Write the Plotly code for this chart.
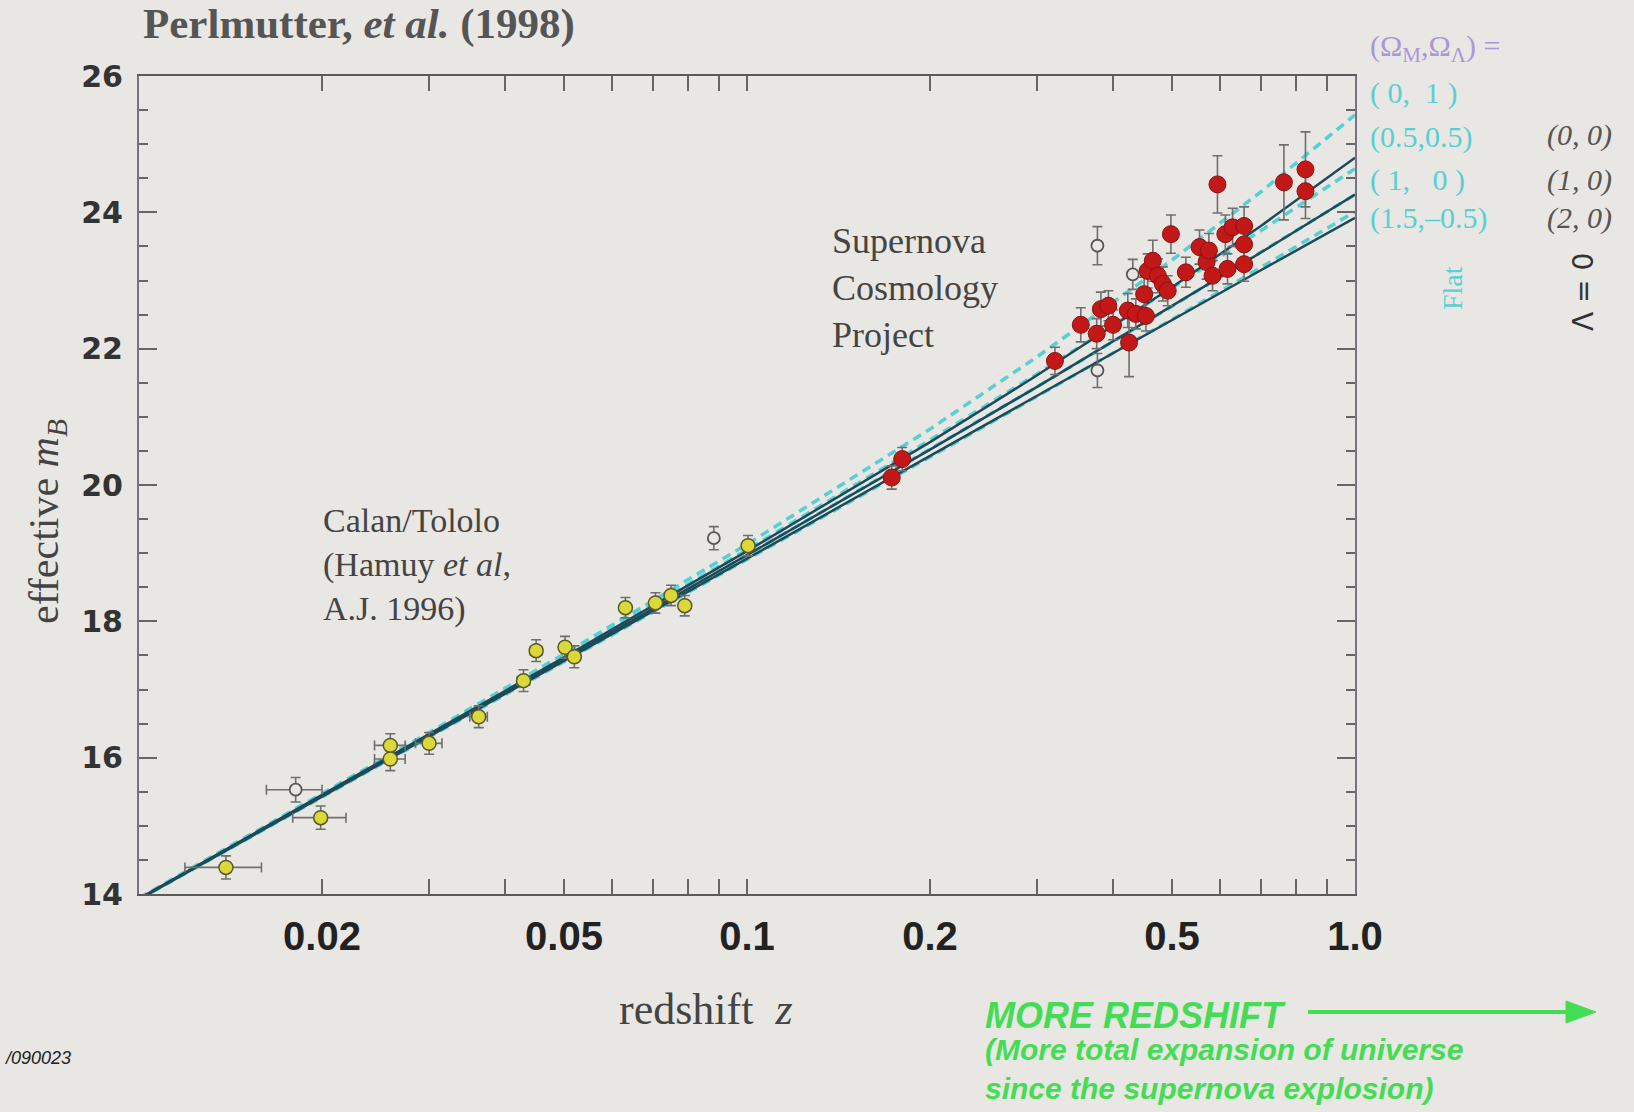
import plotly.graph_objects as go

# ---------------- data ----------------
# Calan/Tololo (filled yellow)
ct_z = [0.0139, 0.0199, 0.0259, 0.0259, 0.0300, 0.0362, 0.0429, 0.0450, 0.0502, 0.0520,
        0.0631, 0.0707, 0.0750, 0.0790, 0.1004]
ct_m = [14.39, 15.12, 16.18, 15.98, 16.21, 16.60, 17.13, 17.57, 17.62, 17.48,
        18.20, 18.27, 18.38, 18.23, 19.11]
ct_dm = [0.17, 0.17, 0.17, 0.17, 0.16, 0.16, 0.16, 0.16, 0.16, 0.16,
         0.15, 0.15, 0.15, 0.15, 0.15]
ct_dz = [0.0020, 0.0020, 0.0015, 0.0015, 0.0015, 0.0012, 0.0010, 0.0010, 0.0010, 0.0010,
         0.0010, 0.0010, 0.0010, 0.0010, 0.0010]

# Calan/Tololo (open)
cto_z = [0.0181, 0.0882]
cto_m = [15.53, 19.22]
cto_dm = [0.18, 0.17]
cto_dz = [0.0019, 0.0010]

# Supernova Cosmology Project (filled red)
scp_z = [0.173, 0.180, 0.321, 0.354, 0.376, 0.382, 0.393, 0.400, 0.423, 0.425,
         0.436, 0.453, 0.450, 0.456, 0.465, 0.474, 0.483, 0.492, 0.498, 0.527,
         0.555, 0.570, 0.575, 0.583, 0.594, 0.612, 0.617, 0.629, 0.657, 0.657,
         0.657, 0.764, 0.829, 0.829]
scp_m = [20.11, 20.38, 21.82, 22.35, 22.22, 22.58, 22.63, 22.35, 22.56, 22.09,
         22.51, 22.48, 22.80, 23.14, 23.29, 23.07, 22.95, 22.85, 23.68, 23.12,
         23.49, 23.27, 23.44, 23.07, 24.41, 23.68, 23.17, 23.78, 23.80, 23.53,
         23.24, 24.44, 24.63, 24.31]
scp_dm = [0.17, 0.17, 0.20, 0.25, 0.22, 0.25, 0.22, 0.22, 0.25, 0.50,
          0.22, 0.22, 0.25, 0.25, 0.30, 0.25, 0.25, 0.22, 0.28, 0.22,
          0.25, 0.25, 0.25, 0.22, 0.42, 0.28, 0.22, 0.28, 0.28, 0.25,
          0.25, 0.55, 0.55, 0.40]

# Supernova Cosmology Project (open)
scpo_z = [0.377, 0.377, 0.431]
scpo_m = [23.51, 21.68, 23.09]
scpo_dm = [0.28, 0.25, 0.22]

# model curves
model_z = [0.01, 0.02, 0.03, 0.05, 0.1, 0.2, 0.3, 0.5, 0.7, 1.0]
m_flat_0_1 = [13.94, 15.47, 16.37, 17.52, 19.13, 20.82, 21.88, 23.30, 24.30, 25.43]
m_flat_05_05 = [13.93, 15.45, 16.35, 17.48, 19.05, 20.66, 21.63, 22.89, 23.73, 24.64]
m_flat_1_0 = [13.93, 15.44, 16.32, 17.44, 18.97, 20.52, 21.44, 22.62, 23.41, 24.26]
m_flat_15_m05 = [13.92, 15.42, 16.30, 17.40, 18.90, 20.41, 21.30, 22.43, 23.19, 24.01]
m_open_0_0 = [13.93, 15.45, 16.34, 17.47, 19.03, 20.63, 21.61, 22.90, 23.80, 24.80]
m_open_1_0 = [13.93, 15.44, 16.32, 17.44, 18.97, 20.52, 21.44, 22.62, 23.41, 24.26]
m_open_2_0 = [13.92, 15.43, 16.31, 17.42, 18.92, 20.43, 21.31, 22.42, 23.15, 23.92]

x_major = [0.02, 0.05, 0.1, 0.2, 0.5, 1.0]
x_major_text = ["0.02", "0.05", "0.1", "0.2", "0.5", "1.0"]
x_minor = [0.03, 0.04, 0.06, 0.07, 0.08, 0.09, 0.3, 0.4, 0.6, 0.7, 0.8, 0.9]
y_major = [14, 16, 18, 20, 22, 24, 26]

# ---------------- styling ----------------
W, H = 1634, 1112
L, R, T, B = 139, 1355, 76, 894
BG = "#e9e7e3"
CYAN = "#58d0d3"
DARK = "#1d4a58"
GREEN = "#45dc55"
SERIF = "Liberation Serif, Times New Roman, serif"
SANS = "Liberation Sans, Arial, sans-serif"


def px(x):
    return (x - L) / (R - L)


def py(y):
    return (B - y) / (B - T)


fig = go.Figure()

for m in [m_flat_0_1, m_flat_05_05, m_flat_1_0, m_flat_15_m05]:
    fig.add_trace(go.Scatter(x=model_z, y=m, mode="lines",
                             line=dict(color=CYAN, width=3.5, dash="9px,6px"),
                             hoverinfo="skip"))
for m in [m_open_0_0, m_open_1_0, m_open_2_0]:
    fig.add_trace(go.Scatter(x=model_z, y=m, mode="lines",
                             line=dict(color=DARK, width=2.5), hoverinfo="skip"))

err_style = dict(color="#6f6f6f", thickness=1.6, width=5)

fig.add_trace(go.Scatter(
    x=ct_z, y=ct_m, mode="markers",
    error_y=dict(type="data", array=ct_dm, **err_style),
    error_x=dict(type="data", array=ct_dz, **err_style),
    marker=dict(size=14, color="#dcd83a", line=dict(color="#5a5a2c", width=1.5))))
fig.add_trace(go.Scatter(
    x=cto_z, y=cto_m, mode="markers",
    error_y=dict(type="data", array=cto_dm, **err_style),
    error_x=dict(type="data", array=cto_dz, **err_style),
    marker=dict(size=12, color=BG, line=dict(color="#555555", width=1.8))))
fig.add_trace(go.Scatter(
    x=scp_z, y=scp_m, mode="markers",
    error_y=dict(type="data", array=scp_dm, **err_style),
    marker=dict(size=17, color="#c21818", line=dict(color="#8a1212", width=1))))
fig.add_trace(go.Scatter(
    x=scpo_z, y=scpo_m, mode="markers",
    error_y=dict(type="data", array=scpo_dm, **err_style),
    marker=dict(size=12, color=BG, line=dict(color="#555555", width=1.8))))

ann = []


def text(x, y, s, size, color="#444444", family=SERIF, xanchor="left", angle=0, weight=None):
    f = dict(size=size, color=color, family=family)
    if weight:
        f["weight"] = weight
    ann.append(dict(x=px(x), y=py(y), xref="paper", yref="paper", text=s, showarrow=False,
                    xanchor=xanchor, yanchor="middle", align="left", textangle=angle, font=f))


text(141, 24, "Perlmutter, <i>et al.</i> (1998)", 43, "#555555", weight="bold")
text(830, 288, "Supernova<br>Cosmology<br>Project", 36)
text(321, 565, "Calan/Tololo<br>(Hamuy <i>et al</i>,<br>A.J. 1996)", 34)
text(47, 522, "effective <i>m</i><sub><i>B</i></sub>", 42, "#444444", xanchor="center", angle=-90)
text(706, 1009, "redshift  <i>z</i>", 44, "#444444", xanchor="center")

text(1368, 48, "(Ω<sub>M</sub>,Ω<sub>Λ</sub>) =", 30, "#a898d8")
text(1368, 93, "( 0,  1 )", 30, CYAN)
text(1368, 137, "(0.5,0.5)", 30, CYAN)
text(1368, 180, "( 1,   0 )", 30, CYAN)
text(1368, 218, "(1.5,–0.5)", 30, CYAN)
text(1545, 135, "<i>(0, 0)</i>", 30, "#555555")
text(1545, 180, "<i>(1, 0)</i>", 30, "#555555")
text(1545, 218, "<i>(2, 0)</i>", 30, "#555555")
text(1452, 288, "Flat", 28, CYAN, xanchor="center", angle=-90)
text(1583, 292, "Λ = 0", 28, "#333333", family="DejaVu Sans, sans-serif", xanchor="center", angle=-90)

text(983, 1015, "<b><i>MORE REDSHIFT</i></b>", 36, GREEN, family=SANS)
text(983, 1069, "<b><i>(More total expansion of universe<br>since the supernova explosion)</i></b>",
     30, GREEN, family=SANS)
text(2, 1058, "<i>/090023</i>", 18, "#222222", family=SANS)

# green arrow drawn as shapes
shapes = [
    dict(type="line", xref="paper", yref="paper", x0=px(1308), x1=px(1572), y0=py(1012), y1=py(1012),
         line=dict(color=GREEN, width=4)),
    dict(type="path", xref="paper", yref="paper",
         path="M {} {} L {} {} L {} {} Z".format(px(1596), py(1012), px(1566), py(1001),
                                                 px(1566), py(1023)),
         fillcolor=GREEN, line=dict(color=GREEN, width=1)),
]

fig.update_layout(
    width=W, height=H,
    margin=dict(l=L, r=W - R, t=T, b=H - B, pad=0),
    paper_bgcolor=BG, plot_bgcolor=BG,
    showlegend=False,
    annotations=ann,
    shapes=shapes,
    xaxis=dict(type="log", range=[-2, 0], showgrid=False, zeroline=False,
               showline=True, linecolor="#5a5a5a", linewidth=2, mirror="ticks",
               ticks="inside", ticklen=15, tickwidth=1.5, tickcolor="#666666",
               tickvals=x_major, ticktext=x_major_text,
               tickfont=dict(family=SANS, size=40, color="#222222", weight="bold"),
               ticklabelstandoff=6,
               minor=dict(tickvals=x_minor, ticks="inside", ticklen=15, tickwidth=1.5,
                          tickcolor="#666666", showgrid=False)),
    yaxis=dict(range=[14, 26], showgrid=False, zeroline=False,
               showline=True, linecolor="#7a6f86", linewidth=2, mirror="ticks",
               ticks="inside", ticklen=18, tickwidth=1.5, tickcolor="#666666",
               tickvals=y_major,
               tickfont=dict(family="DejaVu Sans, sans-serif", size=30, color="#333333", weight="bold"),
               ticklabelstandoff=8,
               minor=dict(dtick=0.5, ticks="inside", ticklen=9, tickwidth=1.5,
                          tickcolor="#666666", showgrid=False)),
)

fig.write_html("out.html")
